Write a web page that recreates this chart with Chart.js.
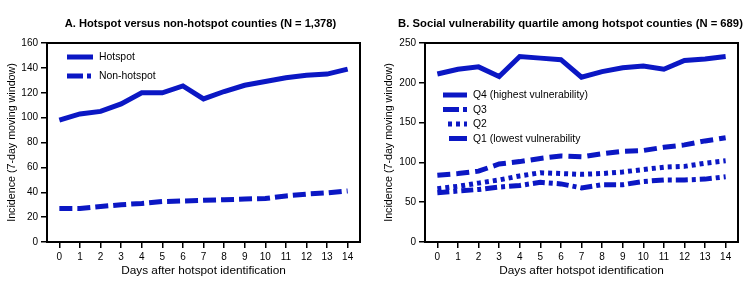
<!DOCTYPE html>
<html><head><meta charset="utf-8">
<script src="https://cdn.jsdelivr.net/npm/chart.js@4.4.0/dist/chart.umd.min.js"></script>
<style>
html,body{margin:0;padding:0;background:#fff;}
#wrap{position:relative;width:750px;height:298px;overflow:hidden;}
.c{position:absolute;top:0;width:375px;height:298px;}
</style>
</head><body>
<div id="wrap">
  <div class="c" style="left:0"><canvas id="a"></canvas></div>
  <div class="c" style="left:375px"><canvas id="b"></canvas></div>
</div>
<script>
// ---- data ----
const days = [0,1,2,3,4,5,6,7,8,9,10,11,12,13,14];
const hotspot    = [98,103,105,111,120,120,125.5,115,121,126,129,132,134,135,139];
const nonHotspot = [27,27,28.5,30,31,32.5,33,33.5,34,34.5,35,37,38.5,39.5,41];
const q4 = [211,217,220,208,233,231,229,207,214,219,221,217,228,230,233];
const q3 = [84,86,89,98,101,105,108,107,111,114,115,119,122,127,131];
const q2 = [67,70,74,78,83,87,86,85,86,88,91,94,95,99,102];
const q1 = [62,64,66,69,71,75,73,68,72,72,76,78,78,79,82];
const yTicksA = [0,20,40,60,80,100,120,140,160];
const yTicksB = [0,50,100,150,200,250];
const titleA = 'A. Hotspot versus non-hotspot counties (N = 1,378)';
const titleB = 'B. Social vulnerability quartile among hotspot counties (N = 689)';
const yTitle = 'Incidence (7-day moving window)';
const xTitle = 'Days after hotspot identification';

const BLUE = '#0b17c4';
const FONT = "'Liberation Sans', Arial, sans-serif";

const framePlugin = {
  id: 'frame',
  afterDatasetsDraw(chart) {
    const {ctx, chartArea: a} = chart;
    ctx.save();
    ctx.strokeStyle = '#000';
    ctx.lineWidth = 2;
    ctx.strokeRect(a.left, a.top, a.right - a.left, a.bottom - a.top);
    ctx.restore();
  }
};

const headPlugin = {
  id: 'head',
  afterDraw(chart, args, o) {
    const {ctx} = chart;
    ctx.save();
    ctx.font = 'bold ' + o.size + 'px ' + FONT;
    ctx.fillStyle = '#000';
    ctx.textAlign = 'center';
    ctx.textBaseline = 'middle';
    ctx.fillText(o.text, o.cx, o.cy);
    ctx.restore();
  }
};

const legendPlugin = {
  id: 'inlegend',
  afterDraw(chart, args, opts) {
    const {ctx, chartArea: a} = chart;
    ctx.save();
    ctx.font = '10.4px ' + FONT;
    ctx.textBaseline = 'middle';
    opts.items.forEach((it, i) => {
      const y = a.top + opts.top + i * opts.gap;
      ctx.strokeStyle = BLUE;
      ctx.lineWidth = 5;
      ctx.setLineDash(it.dash || []);
      ctx.beginPath();
      ctx.moveTo(a.left + opts.left + (it.x0 || 0), y);
      ctx.lineTo(a.left + opts.left + opts.len, y);
      ctx.stroke();
      ctx.setLineDash([]);
      ctx.fillStyle = '#000';
      ctx.fillText(it.text, a.left + opts.left + opts.len + 6, y + 0.5);
    });
    ctx.restore();
  }
};

function makeChart(id, datasets, yMax, yTicks, head, yWidth, yTitlePad, padRight, legend) {
  return new Chart(document.getElementById(id), {
    type: 'line',
    data: { datasets },
    plugins: [framePlugin, legendPlugin, headPlugin],
    options: {
      responsive: true,
      maintainAspectRatio: false,
      animation: false,
      layout: { padding: { left: 0, right: padRight, top: 43, bottom: 0 } },
      elements: { point: { radius: 0 }, line: { borderWidth: 5, tension: 0, borderColor: BLUE, borderCapStyle: 'butt', borderJoinStyle: 'miter' } },
      plugins: {
        legend: { display: false },
        tooltip: { enabled: false },
        title: { display: false },
        head: head,
        inlegend: legend
      },
      scales: {
        x: {
          type: 'linear', min: -0.6, max: 14.6,
          afterBuildTicks: s => { s.ticks = days.map(v => ({ value: v })); },
          afterFit: s => { s.height = 56; },
          grid: { display: true, drawOnChartArea: false, drawTicks: true, tickLength: 6, color: '#000', lineWidth: 1.5 },
          border: { display: false },
          ticks: { color: '#000', font: { family: FONT, size: 10 }, padding: 3, maxRotation: 0, autoSkip: false, callback: v => String(v) },
          title: { display: true, text: xTitle, color: '#000', font: { family: FONT, size: 11.8 }, padding: { top: 4, bottom: 20.5 } }
        },
        y: {
          min: 0, max: yMax,
          afterBuildTicks: s => { s.ticks = yTicks.map(v => ({ value: v })); },
          afterFit: s => { s.width = yWidth; },
          grid: { display: true, drawOnChartArea: false, drawTicks: true, tickLength: 6, color: '#000', lineWidth: 1.5 },
          border: { display: false },
          ticks: { color: '#000', font: { family: FONT, size: 10 }, padding: 3 },
          title: { display: true, text: yTitle, color: '#000', font: { family: FONT, size: 10.7 }, padding: { top: yTitlePad, bottom: 2 } }
        }
      }
    }
  });
}

const pts = arr => arr.map((v, i) => ({ x: days[i], y: v }));

makeChart('a', [
  { label: 'Hotspot', data: pts(hotspot), borderColor: BLUE, fill: false },
  { label: 'Non-hotspot', data: pts(nonHotspot), borderColor: BLUE, borderDash: [13, 5], fill: false }
], 160, yTicksA, { text: titleA, size: 11.15, cx: 200.5, cy: 24 }, 47, 5.5, 15, {
  left: 20, top: 14, gap: 19, len: 26,
  items: [ { text: 'Hotspot', dash: [] }, { text: 'Non-hotspot', dash: [16, 4, 4, 30] } ]
});

makeChart('b', [
  { label: 'Q4 (highest vulnerability)', data: pts(q4), borderColor: BLUE, fill: false },
  { label: 'Q3', data: pts(q3), borderColor: BLUE, borderDash: [13, 6], fill: false },
  { label: 'Q2', data: pts(q2), borderColor: BLUE, borderDash: [4, 4], fill: false },
  { label: 'Q1 (lowest vulnerability', data: pts(q1), borderColor: BLUE, borderDash: [12, 4, 4, 4], fill: false }
], 250, yTicksB, { text: titleB, size: 11.25, cx: 195.5, cy: 24 }, 50, 7.5, 12, {
  left: 18, top: 52, gap: 14.5, len: 24,
  items: [
    { text: 'Q4 (highest vulnerability)', dash: [] },
    { text: 'Q3', dash: [16, 4, 4, 30] },
    { text: 'Q2', dash: [4, 4], x0: 5 },
    { text: 'Q1 (lowest vulnerability', dash: [], x0: 6 }
  ]
});
</script>
</body></html>
